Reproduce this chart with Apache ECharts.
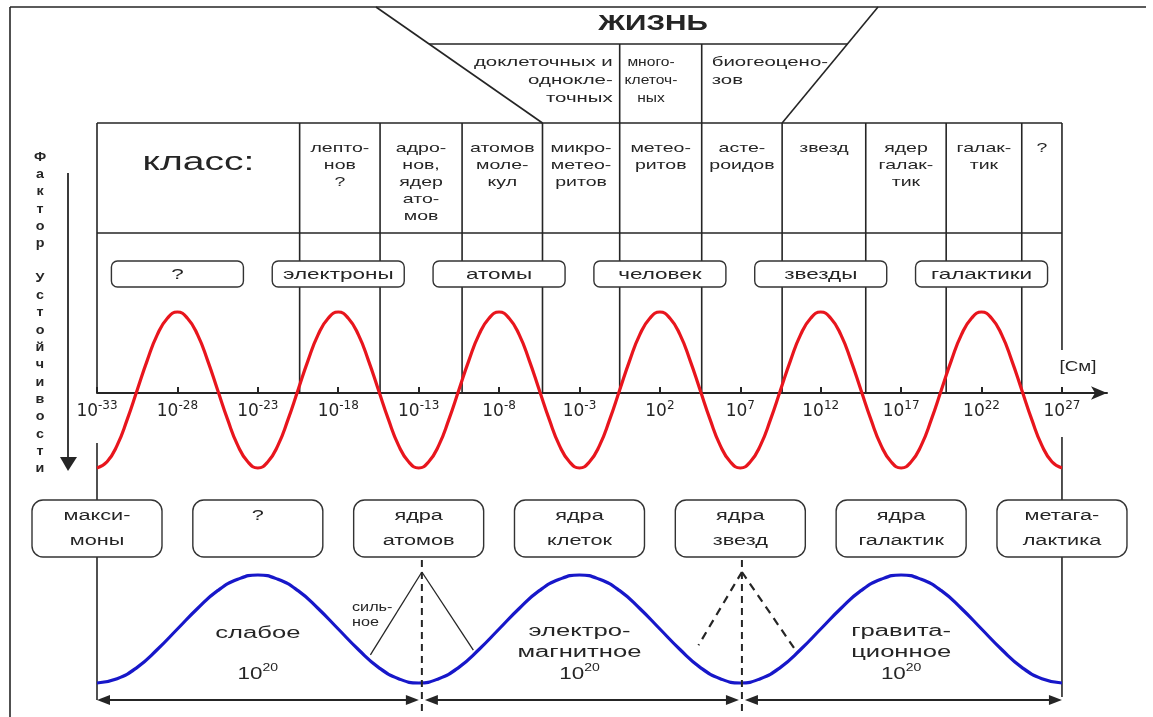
<!DOCTYPE html>
<html>
<head>
<meta charset="utf-8">
<script src="https://cdn.jsdelivr.net/npm/echarts@6/dist/echarts.min.js"></script>
<style>html,body{margin:0;padding:0;background:#fff}#c{width:1153px;height:717px}</style>
</head>
<body>
<div id="c"></div>
<script>
// ---------------- data (log10 of size in cm) ----------------
const scaleTicks = [-33, -28, -23, -18, -13, -8, -3, 2, 7, 12, 17, 22, 27];

// red curve: stability factor of objects vs size
const redX = [-33, -32.375, -31.75, -31.125, -30.5, -29.875, -29.25, -28.625, -28,
  -27.375, -26.75, -26.125, -25.5, -24.875, -24.25, -23.625, -23,
  -22.375, -21.75, -21.125, -20.5, -19.875, -19.25, -18.625, -18,
  -17.375, -16.75, -16.125, -15.5, -14.875, -14.25, -13.625, -13,
  -12.375, -11.75, -11.125, -10.5, -9.875, -9.25, -8.625, -8,
  -7.375, -6.75, -6.125, -5.5, -4.875, -4.25, -3.625, -3,
  -2.375, -1.75, -1.125, -0.5, 0.125, 0.75, 1.375, 2,
  2.625, 3.25, 3.875, 4.5, 5.125, 5.75, 6.375, 7,
  7.625, 8.25, 8.875, 9.5, 10.125, 10.75, 11.375, 12,
  12.625, 13.25, 13.875, 14.5, 15.125, 15.75, 16.375, 17,
  17.625, 18.25, 18.875, 19.5, 20.125, 20.75, 21.375, 22,
  22.625, 23.25, 23.875, 24.5, 25.125, 25.75, 26.375, 27];
const redY = [-1,
  -0.92, -0.71, -0.38, 0, 0.38, 0.71, 0.92, 1,
  0.92, 0.71, 0.38, 0, -0.38, -0.71, -0.92, -1,
  -0.92, -0.71, -0.38, 0, 0.38, 0.71, 0.92, 1,
  0.92, 0.71, 0.38, 0, -0.38, -0.71, -0.92, -1,
  -0.92, -0.71, -0.38, 0, 0.38, 0.71, 0.92, 1,
  0.92, 0.71, 0.38, 0, -0.38, -0.71, -0.92, -1,
  -0.92, -0.71, -0.38, 0, 0.38, 0.71, 0.92, 1,
  0.92, 0.71, 0.38, 0, -0.38, -0.71, -0.92, -1,
  -0.92, -0.71, -0.38, 0, 0.38, 0.71, 0.92, 1,
  0.92, 0.71, 0.38, 0, -0.38, -0.71, -0.92, -1,
  -0.92, -0.71, -0.38, 0, 0.38, 0.71, 0.92, 1,
  0.92, 0.71, 0.38, 0, -0.38, -0.71, -0.92, -1];

// blue curve: interactions
const blueX = [-33, -31.75, -30.5, -29.25, -28, -26.75, -25.5, -24.25, -23,
  -21.75, -20.5, -19.25, -18, -16.75, -15.5, -14.25, -13,
  -11.75, -10.5, -9.25, -8, -6.75, -5.5, -4.25, -3,
  -1.75, -0.5, 0.75, 2, 3.25, 4.5, 5.75, 7,
  8.25, 9.5, 10.75, 12, 13.25, 14.5, 15.75, 17,
  18.25, 19.5, 20.75, 22, 23.25, 24.5, 25.75, 27];
const blueY = [-1,
  -0.92, -0.71, -0.38, 0, 0.38, 0.71, 0.92, 1,
  0.92, 0.71, 0.38, 0, -0.38, -0.71, -0.92, -1,
  -0.92, -0.71, -0.38, 0, 0.38, 0.71, 0.92, 1,
  0.92, 0.71, 0.38, 0, -0.38, -0.71, -0.92, -1,
  -0.92, -0.71, -0.38, 0, 0.38, 0.71, 0.92, 1,
  0.92, 0.71, 0.38, 0, -0.38, -0.71, -0.92, -1];

// classes (column boundaries)
const classBounds = [-20.4, -15.4, -10.3, -5.3, -0.5, 4.6, 9.6, 14.8, 19.8, 24.5];
const classNames = ['лепто-\nнов\n?', 'адро-\nнов,\nядер\nато-\nмов', 'атомов\nмоле-\nкул', 'микро-\nметео-\nритов',
  'метео-\nритов', 'асте-\nроидов', 'звезд', 'ядер\nгалак-\nтик', 'галак-\nтик', '?'];
const lifeTitle = 'ЖИЗНЬ';
const lifeNames = ['доклеточных и\nоднокле-\nточных', 'много-\nклеточ-\nных', 'биогеоцено-\nзов'];

// objects at maxima / minima of the red curve
const upperX = [-28, -18, -8, 2, 12, 22];
const upperNames = ['?', 'электроны', 'атомы', 'человек', 'звезды', 'галактики'];
const lowerX = [-33, -23, -13, -3, 7, 17, 27];
const lowerNames = ['макси-\nмоны', '?\n', 'ядра\nатомов', 'ядра\nклеток', 'ядра\nзвезд', 'ядра\nгалактик', 'метага-\nлактика'];

// interactions
const forceNames = ['слабое', 'электро-\nмагнитное', 'гравита-\nционное'];
const forceCentre = [-23, -3, 17];
const forceBounds = [-12.8, 7.1];
const forceRanges = [[-33, -12.8], [-12.8, 7.1], [7.1, 27]];
const forceExp = ['20', '20', '20'];
const strongName = 'силь-\nное';
const axisName = '[См]';
const sideTitle = 'Фактор Устойчивости';

// ---------------- chart ----------------
const INK = '#252525';
const FONT = '"Liberation Sans", Arial, sans-serif';
const chart = echarts.init(document.getElementById('c'));

chart.setOption({
  animation: false,
  backgroundColor: '#ffffff',
  grid: [
    { left: 97, right: 46, top: 312, height: 156 },
    { left: 97, right: 46, top: 575, height: 108 }
  ],
  xAxis: [
    {
      type: 'value', gridIndex: 0, min: -33, max: 29.8, position: 'bottom', offset: -75,
      axisLine: { show: true, onZero: false, symbol: ['none', 'arrow'], symbolSize: [10, 16],
        lineStyle: { color: INK, width: 2 } },
      axisTick: { show: true, inside: true, length: 6, customValues: scaleTicks,
        lineStyle: { color: INK, width: 2 } },
      axisLabel: {
        show: true, customValues: scaleTicks, margin: 7,
        formatter: v => '{b|10}{s|' + v + '}',
        rich: {
          b: { fontFamily: 'DejaVu Sans', fontSize: 17, color: INK, lineHeight: 20, verticalAlign: 'bottom' },
          s: { fontFamily: 'DejaVu Sans', fontSize: 12, color: INK, lineHeight: 12, verticalAlign: 'top' }
        }
      },
      splitLine: { show: false }
    },
    { type: 'value', gridIndex: 1, min: -33, max: 29.8, show: false }
  ],
  yAxis: [
    { type: 'value', gridIndex: 0, min: -1, max: 1, show: false },
    { type: 'value', gridIndex: 1, min: -1, max: 1, show: false }
  ],
  series: [
    { type: 'line', xAxisIndex: 0, yAxisIndex: 0, data: redX.map((x, i) => [x, redY[i]]),
      smooth: true, showSymbol: false, clip: false, z: 5,
      lineStyle: { color: '#e8151d', width: 3.2 } },
    { type: 'line', xAxisIndex: 1, yAxisIndex: 1, data: blueX.map((x, i) => [x, blueY[i]]),
      smooth: true, showSymbol: false, clip: false, z: 5,
      lineStyle: { color: '#1717c9', width: 3.2 } }
  ]
});

// ---------------- annotations ----------------
const X = v => chart.convertToPixel({ xAxisIndex: 0 }, v);
const B = (x, y) => chart.convertToPixel({ gridIndex: 1 }, [x, y]);
const g = [];
function line(x1, y1, x2, y2, w, dash, z) {
  const style = { stroke: INK, lineWidth: w || 1.6 };
  if (dash) style.lineDash = dash;
  g.push({ type: 'line', silent: true, z: z || 1, shape: { x1, y1, x2, y2 }, style });
}
function poly(points, z) {
  g.push({ type: 'polygon', silent: true, z: z || 3, shape: { points }, style: { fill: INK } });
}
function box(cx, top, w, h, r) {
  g.push({ type: 'rect', silent: true, z: 10, shape: { x: cx - w / 2, y: top, width: w, height: h, r: r },
    style: { fill: '#fff', stroke: '#333', lineWidth: 1.4 } });
}
function txt(x, y, text, size, o) {
  o = o || {};
  const align = o.align || 'center', va = o.va || 'middle';
  g.push({ type: 'text', silent: true, z: 20, x, y, scaleX: o.sx || 1.5,
    style: { text, fill: INK, font: (o.bold ? 'bold ' : '') + size + 'px ' + FONT,
      textAlign: align, align: align, textVerticalAlign: va, verticalAlign: va,
      lineHeight: o.lh || Math.round(size * 1.25) } });
}

const xL = X(-33), xR = X(27);
const yTop = 123, yMid = 233, yAxis = 393, yLife = 44, yFrame = 7;

// outer frame
line(10, yFrame, 1146, yFrame, 1.6);
line(10, yFrame, 10, 717, 1.6);
// table
line(xL, yTop, xR, yTop);
line(xL, yMid, xR, yMid);
line(xL, yTop, xL, yAxis);
line(xL, 443, xL, 700);
line(xR, yTop, xR, 350);
line(xR, 437, xR, 697);
classBounds.forEach((b, i) => {
  const top = (i === 4 || i === 5) ? yLife : yTop;
  line(X(b), top, X(b), yAxis);
});
// life trapezoid
const dl = [[376, yFrame], [X(-5.3), yTop]];
const dr = [[878, yFrame], [X(9.6), yTop]];
line(dl[0][0], dl[0][1], dl[1][0], dl[1][1]);
line(dr[0][0], dr[0][1], dr[1][0], dr[1][1]);
const atY = (d, y) => d[0][0] + (d[1][0] - d[0][0]) * (y - d[0][1]) / (d[1][1] - d[0][1]);
line(atY(dl, yLife), yLife, atY(dr, yLife), yLife);
txt(653, 24, lifeTitle, 22, { bold: true, sx: 1.35 });
txt(X(-0.5) - 7, 54, lifeNames[0], 12, { align: 'right', va: 'top', sx: 1.7, lh: 18 });
txt(651, 54, lifeNames[1], 12, { va: 'top', sx: 1.3, lh: 18 });
txt(X(4.6) + 10, 54, lifeNames[2], 12, { align: 'left', va: 'top', sx: 1.7, lh: 18 });

// class row
txt((xL + X(classBounds[0])) / 2, 163, 'класс:', 26, { sx: 1.5 });
const cols = classBounds.concat([27]);
classNames.forEach((n, i) => {
  const cx = (X(cols[i]) + X(cols[i + 1])) / 2;
  txt(cx, 140, n, 13, { va: 'top', sx: 1.5, lh: 17 });
});

// upper boxes (maxima)
upperX.forEach((v, i) => {
  box(X(v), 261, 132, 26, 6);
  txt(X(v), 274.5, upperNames[i], 15, { sx: 1.5 });
});
// lower boxes (minima)
lowerX.forEach((v, i) => {
  box(X(v), 500, 130, 57, 11);
  txt(X(v), 529, lowerNames[i], 14, { sx: 1.55, lh: 25 });
});

// side title + arrow
txt(40, 148.5, sideTitle.split('').join('\n'), 13, { bold: true, va: 'top', sx: 1.1, lh: 17.3 });
line(68, 173, 68, 458, 1.8);
poly([[60, 457], [77, 457], [68, 471]]);
txt(1078, 367, axisName, 15, { sx: 1.25 });

// forces: dashed boundaries + triangles
forceBounds.forEach(b => line(X(b), 560, X(b), 712, 2, [7, 5], 6));
const s0 = B(-16.0, -0.48), s1 = B(-9.6, -0.39), sa = [X(forceBounds[0]), 572];
line(sa[0], sa[1], s0[0], s0[1], 1.3, null, 6);
line(sa[0], sa[1], s1[0], s1[1], 1.3, null, 6);
const d0 = B(4.4, -0.3), d1 = B(10.5, -0.42), da = [X(forceBounds[1]), 572];
line(da[0], da[1], d0[0], d0[1], 2.2, [8, 6], 6);
line(da[0], da[1], d1[0], d1[1], 2.2, [8, 6], 6);
txt(352, 600, strongName, 12, { align: 'left', va: 'top', sx: 1.35, lh: 15 });

forceNames.forEach((n, i) => {
  const cx = X(forceCentre[i]);
  const cy = n.indexOf('\n') >= 0 ? 642.5 : 634;
  txt(cx, cy, n, 16, { sx: 1.6, lh: 21 });
  g.push({ type: 'text', silent: true, z: 20, x: cx, y: 673, scaleX: 1.4,
    style: { text: '{b|10}{s|' + forceExp[i] + '}', textAlign: 'center', align: 'center',
      textVerticalAlign: 'middle', verticalAlign: 'middle',
      rich: { b: { fontFamily: FONT, fontSize: 16, fill: INK, lineHeight: 20, verticalAlign: 'bottom' },
              s: { fontFamily: FONT, fontSize: 10, fill: INK, lineHeight: 11, verticalAlign: 'top' } } } });
});

// range arrows
forceRanges.forEach(r => {
  const a = X(r[0]) + (r[0] === -33 ? 0 : 3);
  const b = X(r[1]) - (r[1] === 27 ? 0 : 3);
  const y = 700;
  line(a + 8, y, b - 8, y, 2);
  poly([[a, y], [a + 13, y - 5], [a + 13, y + 5]]);
  poly([[b, y], [b - 13, y - 5], [b - 13, y + 5]]);
});

chart.setOption({ graphic: { elements: g } });
</script>
</body>
</html>
